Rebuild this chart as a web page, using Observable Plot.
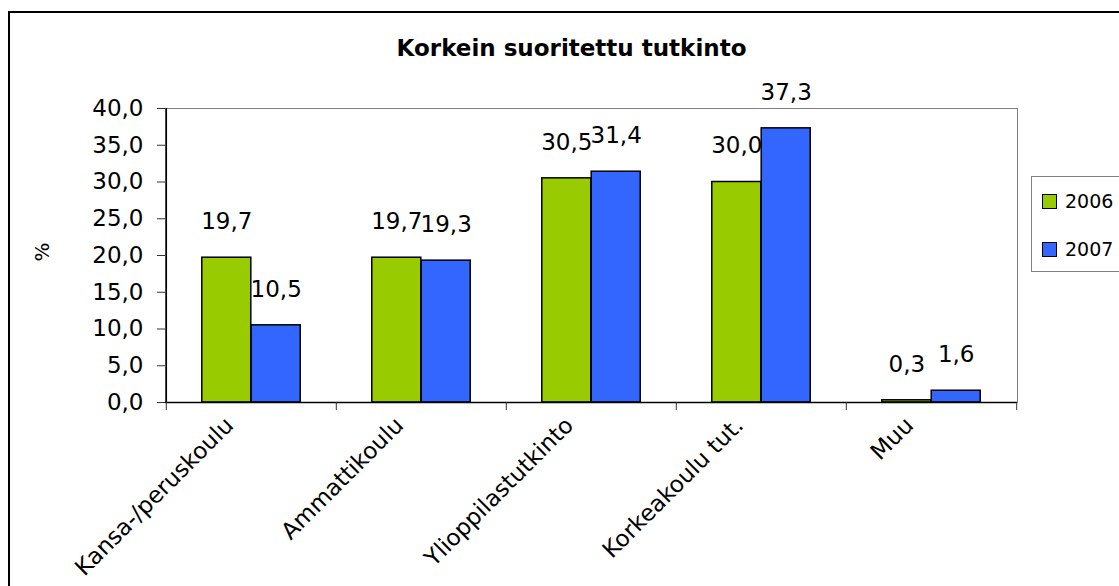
<!DOCTYPE html>
<html>
<head>
<meta charset="utf-8">
<script src="https://cdn.jsdelivr.net/npm/d3@7"></script>
<script src="https://cdn.jsdelivr.net/npm/@observablehq/plot@0.6"></script>
<style>
  html, body { margin: 0; padding: 0; background: #fff; overflow: hidden; }
  body { font-family: "DejaVu Sans", Verdana, sans-serif; color: #000; }
  #wrap { position: relative; width: 1119px; height: 586px; overflow: hidden; }
  #chart { position: absolute; left: 0; top: 0; }
  #border { position: absolute; left: 8px; top: 11px; width: 1300px; height: 800px;
            border: 2px solid #000; box-sizing: border-box; pointer-events: none; z-index: 3; }
  #title { position: absolute; left: 0; top: 37px; width: 1143px; text-align: center;
           font-weight: bold; font-size: 23px; line-height: 23px; white-space: nowrap; }
  #legend { position: absolute; left: 1031px; top: 176px; width: 120px; height: 96px;
            border: 1px solid #808080; box-sizing: border-box; background: #fff; z-index: 2; }
  .item { position: absolute; left: 10px; height: 20px; font-size: 19px; line-height: 20px; white-space: nowrap; }
  .sw { display: inline-block; width: 15px; height: 15px; border: 1.5px solid #000; box-sizing: border-box;
        vertical-align: -1px; margin-right: 8px; }
</style>
</head>
<body>
<div id="wrap">
  <div id="chart"></div>
  <div id="title"></div>
  <div id="legend"></div>
  <div id="border"></div>
</div>
<script>
const titleText = "Korkein suoritettu tutkinto";
const yLabel = "%";
const categories = ["Kansa-/peruskoulu", "Ammattikoulu", "Ylioppilastutkinto", "Korkeakoulu tut.", "Muu"];
const years = ["2006", "2007"];
const values2006 = [19.7, 19.7, 30.5, 30.0, 0.3];
const values2007 = [10.5, 19.3, 31.4, 37.3, 1.6];
const yTicks = [0, 5, 10, 15, 20, 25, 30, 35, 40];
const colors = ["#99CC00", "#3366FF"];

const fmt = v => v.toFixed(1).replace(".", ",");

const W = 1119, H = 586;
const mL = 165, mR = 102, mT = 108, mB = 184;
const bw = (W - mL - mR) / categories.length;
const barW = bw * 0.29;

const rows2006 = categories.map((c, i) => ({cat: c, year: years[0], v: values2006[i]}));
const rows2007 = categories.map((c, i) => ({cat: c, year: years[1], v: values2007[i]}));

const plot = Plot.plot({
  width: W,
  height: H,
  marginLeft: mL,
  marginRight: mR,
  marginTop: mT,
  marginBottom: mB,
  style: {fontFamily: "DejaVu Sans, Verdana, sans-serif", fontSize: "23px", background: "none", color: "#000"},
  x: {domain: categories, padding: 0, axis: null},
  y: {domain: [0, 40], axis: null},
  marks: [
    Plot.frame({stroke: "#808080"}),
    Plot.barY(rows2006, {x: "cat", y: "v", fill: colors[0], stroke: "#000", strokeWidth: 1.5,
      insetLeft: bw / 2 - barW, insetRight: bw / 2}),
    Plot.barY(rows2007, {x: "cat", y: "v", fill: colors[1], stroke: "#000", strokeWidth: 1.5,
      insetLeft: bw / 2, insetRight: bw / 2 - barW}),
    Plot.ruleY([0], {stroke: "#000", strokeWidth: 1.5}),
    Plot.ruleX([categories[0]], {x: d => d, dx: -bw / 2, stroke: "#000", strokeWidth: 1.5}),
    Plot.axisY({ticks: yTicks, tickFormat: fmt, tickSize: 8, tickPadding: 14, fontSize: 23, label: null, stroke: "#333"}),
    Plot.text([yLabel], {text: d => d, frameAnchor: "left", dx: -123, dy: 6, rotate: -90, fontSize: 20}),
    Plot.axisX({tickSize: 8, text: null, label: null, dx: -bw / 2, stroke: "#333"}),
    Plot.axisX({ticks: [categories[categories.length - 1]], tickSize: 8, text: null, label: null, dx: bw / 2, stroke: "#333"}),
    Plot.axisX({tickSize: 0, tickRotate: -45, tickPadding: 19, dx: -22, fontSize: 23, label: null}),
    Plot.text(rows2006, {x: "cat", y: "v", text: d => fmt(d.v), dx: -barW / 2, dy: -36, fontSize: 23}),
    Plot.text(rows2007, {x: "cat", y: "v", text: d => fmt(d.v), dx: barW / 2, dy: -36, fontSize: 23})
  ]
});
document.getElementById("chart").appendChild(plot);
document.getElementById("title").textContent = titleText;

// clip the rotated category labels just below the axis, as in the original
const svg = d3.select(plot);
const clipId = "xlab-clip";
svg.append("defs").append("clipPath").attr("id", clipId)
  .attr("clipPathUnits", "userSpaceOnUse")
  .append("rect").attr("x", 0).attr("y", H - mB + 14).attr("width", W).attr("height", mB);
svg.selectAll('g[aria-label="x-axis tick label"]').each(function () {
  const wrapper = document.createElementNS("http://www.w3.org/2000/svg", "g");
  wrapper.setAttribute("clip-path", `url(#${clipId})`);
  this.parentNode.insertBefore(wrapper, this);
  wrapper.appendChild(this);
});

const legend = d3.select("#legend");
years.forEach((yr, i) => {
  const it = legend.append("div").attr("class", "item").style("top", (14 + i * 48) + "px");
  it.append("span").attr("class", "sw").style("background", colors[i]);
  it.append("span").text(yr);
});
</script>
</body>
</html>
